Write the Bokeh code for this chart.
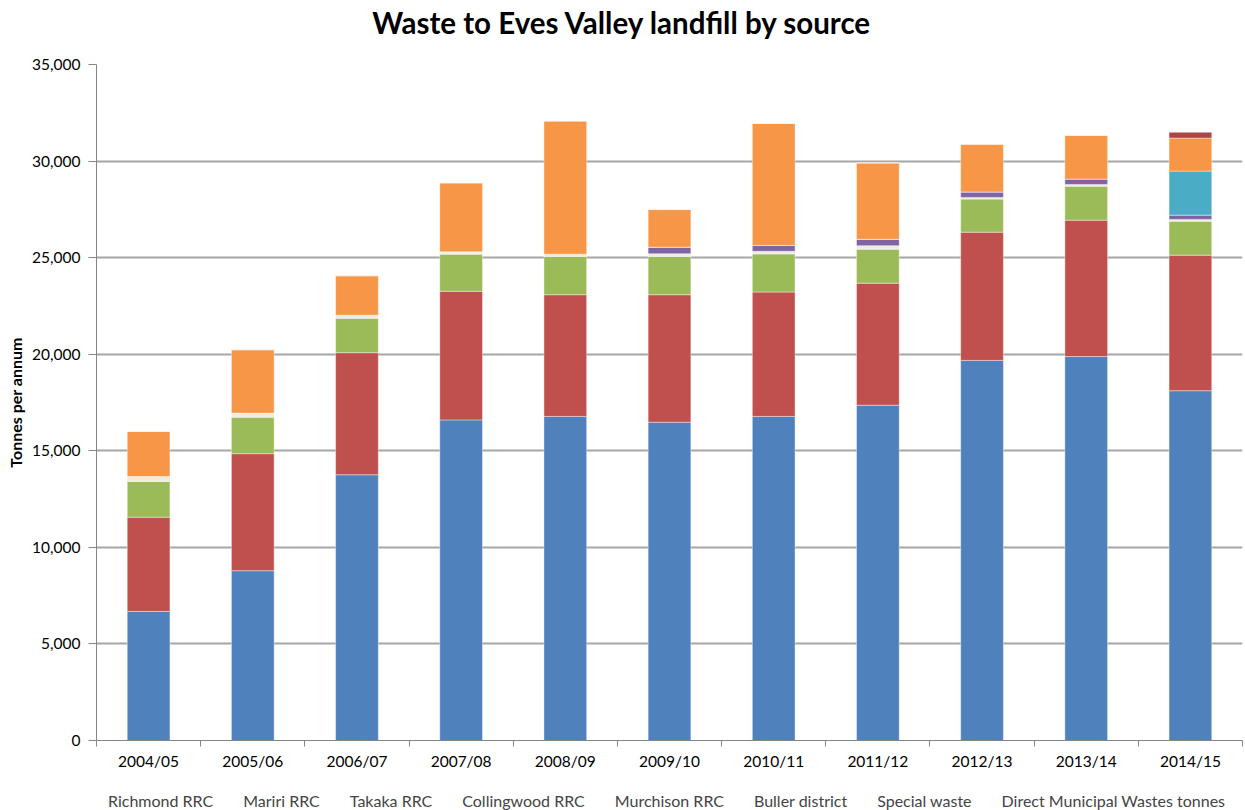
from bokeh.plotting import figure
from bokeh.layouts import column
from bokeh.models import (ColumnDataSource, FixedTicker, NumeralTickFormatter, Legend,
                          Range1d, Label, CDSView, IndexFilter)
from bokeh.embed import file_html
from bokeh.resources import INLINE

# Financial years
years = ["2004/05", "2005/06", "2006/07", "2007/08", "2008/09", "2009/10",
         "2010/11", "2011/12", "2012/13", "2013/14", "2014/15"]

# Tonnes per annum by source
richmond = [6680, 8790, 13760, 16600, 16780, 16480, 16780, 17360, 19680, 19880, 18110]
mariri = [4880, 6060, 6320, 6660, 6300, 6600, 6440, 6320, 6640, 7060, 7020]
takaka = [1850, 1890, 1780, 1920, 1980, 1980, 1970, 1760, 1710, 1760, 1760]
collingwood = [260, 210, 160, 120, 120, 140, 140, 180, 90, 90, 90]
murchison = [0, 0, 0, 0, 0, 340, 300, 330, 280, 280, 220]
buller = [0, 0, 0, 0, 0, 0, 0, 0, 0, 0, 2280]
special = [2330, 3280, 2040, 3570, 6890, 1950, 6320, 3950, 2470, 2260, 1710]
direct = [0, 0, 0, 0, 0, 0, 0, 0, 0, 0, 300]

series_names = ["Richmond RRC", "Mariri RRC", "Takaka RRC", "Collingwood RRC",
                "Murchison RRC", "Buller district", "Special waste",
                "Direct Municipal Wastes tonnes"]
series_values = [richmond, mariri, takaka, collingwood, murchison, buller, special, direct]
colors = ["#4F81BD", "#C0504D", "#9BBB59", "#EEECE1", "#8064A2", "#4BACC6", "#F79646", "#AA4643"]

FONT = "Lato"

positions = list(range(len(years)))
data = {"x": positions}
keys = []
for i, vals in enumerate(series_values):
    k = f"s{i}"
    keys.append(k)
    data[k] = vals
source = ColumnDataSource(data)

bar_style = dict(width=0.41, source=source, color=colors,
                 line_color="white", line_width=0.8, line_alpha=0.5)


def blank_strip(h):
    f = figure(width=1245, height=h, output_backend="svg", toolbar_location=None,
               x_range=Range1d(-0.5, len(years) - 0.5), y_range=Range1d(-1e6, -1e6 + 1),
               x_axis_location=None, y_axis_location=None,
               min_border=0, min_border_left=0, min_border_right=0,
               min_border_top=0, min_border_bottom=0)
    f.outline_line_color = None
    f.xgrid.visible = False
    f.ygrid.visible = False
    f.background_fill_color = "white"
    f.border_fill_color = "white"
    return f


# Title strip
head = blank_strip(40)
head.add_layout(Label(x=526, y=18, x_units="screen", y_units="screen",
                      text="Waste to Eves Valley landfill by source",
                      text_align="center", text_baseline="middle",
                      text_font=FONT, text_font_size="29.5px", text_font_style="bold",
                      text_color="black"))

# Main chart
p = figure(width=1245, height=734, output_backend="svg", toolbar_location=None,
           x_range=Range1d(-0.5, len(years) - 0.5), y_range=Range1d(0, 35000),
           min_border_left=96, min_border_right=3, min_border_top=24, min_border_bottom=34)
p.outline_line_color = None
p.background_fill_color = "white"
p.border_fill_color = "white"

renderers = p.vbar_stack(keys, x="x", **bar_style)

p.xgrid.grid_line_color = None
p.ygrid.grid_line_color = "#a6a6a6"
p.ygrid.grid_line_width = 2
p.ygrid.ticker = FixedTicker(ticks=list(range(0, 35001, 5000)))

p.yaxis.ticker = FixedTicker(ticks=list(range(0, 35001, 5000)), minor_ticks=[])
p.yaxis.formatter = NumeralTickFormatter(format="0,0")
p.yaxis.axis_label = "Tonnes per annum"
p.yaxis.axis_label_text_font = FONT
p.yaxis.axis_label_text_font_size = "16px"
p.yaxis.axis_label_text_font_style = "bold"
p.yaxis.axis_label_standoff = 4

boundaries = [i - 0.5 for i in range(len(years) + 1)]
p.xaxis.ticker = FixedTicker(ticks=positions, minor_ticks=boundaries)
p.xaxis.major_label_overrides = {i: y for i, y in enumerate(years)}
p.xaxis.major_tick_out = 0
p.xaxis.major_tick_in = 0
p.xaxis.minor_tick_out = 6
p.xaxis.minor_tick_in = 0
p.xaxis.minor_tick_line_color = "#868686"
p.xaxis.major_label_standoff = 5

for ax in (p.xaxis, p.yaxis):
    ax.axis_line_color = "#868686"
    ax.major_tick_line_color = "#868686"
    ax.major_label_text_font = FONT
    ax.major_label_text_font_size = "15.5px"
    ax.major_label_text_color = "black"
    ax.axis_label_text_color = "black"
p.yaxis.major_tick_out = 8
p.yaxis.major_tick_in = 0
p.yaxis.major_label_standoff = 8
p.yaxis.minor_tick_line_color = None

# Legend strip: the same series with an empty view, so only the key is drawn
leg = blank_strip(36)
empty_view = CDSView(filter=IndexFilter(indices=[]))
leg_renderers = leg.vbar_stack(keys, x="x", view=empty_view, **bar_style)
legend = Legend(items=[(name, [r]) for name, r in zip(series_names, leg_renderers)],
                orientation="horizontal", location=(1, 0),
                label_text_font=FONT, label_text_font_size="16px",
                glyph_width=6, glyph_height=13, label_standoff=5, spacing=19,
                label_height=16, padding=0, margin=0, border_line_color=None,
                background_fill_alpha=0)
leg.add_layout(legend)

layout = column(head, p, leg, spacing=0)

open("out.html", "w").write(file_html(layout, INLINE))
